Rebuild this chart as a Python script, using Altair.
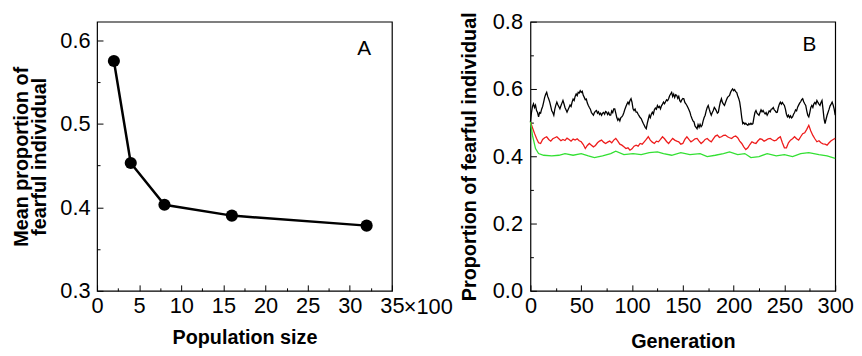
import altair as alt
import pandas as pd

# ---------------- Panel A data ----------------
pop_size = [2, 4, 8, 16, 32]
mean_prop = [0.575, 0.453, 0.403, 0.390, 0.378]

# ---------------- Panel B data ----------------
# black series: one value per generation 0..300
black_val = [
    0.502, 0.530, 0.548, 0.556, 0.545, 0.552, 0.536, 0.530, 0.517, 0.530,
    0.528, 0.540, 0.548, 0.561, 0.575, 0.584, 0.590, 0.578, 0.570, 0.561,
    0.548, 0.535, 0.530, 0.522, 0.540, 0.552, 0.561, 0.553, 0.547, 0.541,
    0.550, 0.558, 0.566, 0.556, 0.545, 0.538, 0.531, 0.538, 0.545, 0.552,
    0.548, 0.561, 0.570, 0.566, 0.578, 0.585, 0.580, 0.590, 0.588, 0.595,
    0.590, 0.593, 0.581, 0.575, 0.568, 0.570, 0.558, 0.551, 0.545, 0.540,
    0.530, 0.526, 0.522, 0.530, 0.534, 0.536, 0.528, 0.532, 0.524, 0.528,
    0.522, 0.528, 0.530, 0.525, 0.533, 0.531, 0.524, 0.530, 0.522, 0.522,
    0.535, 0.530, 0.541, 0.541, 0.528, 0.515, 0.507, 0.512, 0.505, 0.515,
    0.517, 0.522, 0.530, 0.540, 0.548, 0.555, 0.561, 0.555, 0.566, 0.571,
    0.560, 0.541, 0.536, 0.540, 0.531, 0.531, 0.525, 0.520, 0.515, 0.512,
    0.505, 0.498, 0.492, 0.486, 0.482, 0.498, 0.510, 0.522, 0.515, 0.525,
    0.531, 0.525, 0.538, 0.543, 0.540, 0.551, 0.545, 0.548, 0.541, 0.550,
    0.555, 0.561, 0.556, 0.562, 0.568, 0.565, 0.571, 0.580, 0.585, 0.590,
    0.578, 0.585, 0.575, 0.583, 0.581, 0.572, 0.578, 0.565, 0.561, 0.568,
    0.572, 0.571, 0.560, 0.556, 0.551, 0.545, 0.538, 0.531, 0.520, 0.512,
    0.505, 0.502, 0.490, 0.486, 0.482, 0.494, 0.486, 0.495, 0.488, 0.492,
    0.505, 0.515, 0.522, 0.535, 0.545, 0.551, 0.540, 0.530, 0.522, 0.530,
    0.536, 0.545, 0.541, 0.535, 0.528, 0.531, 0.548, 0.562, 0.571, 0.560,
    0.555, 0.551, 0.560, 0.568, 0.575, 0.578, 0.581, 0.590, 0.596, 0.600,
    0.595, 0.598, 0.592, 0.590, 0.580, 0.572, 0.561, 0.540, 0.515, 0.497,
    0.500, 0.495, 0.498, 0.494, 0.492, 0.497, 0.494, 0.498, 0.495, 0.497,
    0.515, 0.530, 0.536, 0.528, 0.525, 0.522, 0.530, 0.538, 0.532, 0.536,
    0.530, 0.526, 0.530, 0.522, 0.528, 0.535, 0.532, 0.540, 0.541, 0.545,
    0.538, 0.535, 0.530, 0.531, 0.545, 0.555, 0.561, 0.555, 0.560, 0.555,
    0.551, 0.540, 0.525, 0.517, 0.522, 0.515, 0.520, 0.514, 0.517, 0.525,
    0.530, 0.538, 0.535, 0.546, 0.552, 0.558, 0.562, 0.568, 0.571, 0.562,
    0.556, 0.551, 0.535, 0.522, 0.517, 0.530, 0.545, 0.551, 0.545, 0.556,
    0.560, 0.555, 0.566, 0.560, 0.555, 0.551, 0.560, 0.566, 0.540, 0.512,
    0.497, 0.510, 0.522, 0.531, 0.540, 0.550, 0.555, 0.561, 0.552, 0.540,
    0.522,
]
black_gen = list(range(len(black_val)))

# red series: one value every 2 generations 0..300
red_val = [
    0.502, 0.485, 0.468, 0.453, 0.440, 0.438, 0.450, 0.455, 0.458, 0.450,
    0.445, 0.452, 0.455, 0.458, 0.452, 0.446, 0.450, 0.447, 0.454, 0.450,
    0.445, 0.451, 0.448, 0.452, 0.446, 0.443, 0.435, 0.423, 0.432, 0.438,
    0.433, 0.428, 0.432, 0.440, 0.445, 0.448, 0.442, 0.438, 0.442, 0.445,
    0.440, 0.448, 0.453, 0.445, 0.436, 0.433, 0.428, 0.423, 0.425, 0.418,
    0.422, 0.430, 0.433, 0.430, 0.438, 0.436, 0.443, 0.450, 0.458, 0.448,
    0.442, 0.438, 0.445, 0.443, 0.450, 0.458, 0.452, 0.444, 0.438, 0.446,
    0.453, 0.448, 0.445, 0.443, 0.436, 0.438, 0.450, 0.458, 0.450, 0.443,
    0.447, 0.452, 0.453, 0.445, 0.438, 0.443, 0.450, 0.453, 0.447, 0.443,
    0.452, 0.460, 0.463, 0.456, 0.458, 0.462, 0.463, 0.458, 0.455, 0.453,
    0.458, 0.460, 0.455, 0.445, 0.438, 0.428, 0.420, 0.425, 0.435, 0.443,
    0.440, 0.438, 0.446, 0.452, 0.450, 0.445, 0.448, 0.452, 0.453, 0.449,
    0.446, 0.448, 0.454, 0.458, 0.440, 0.425, 0.425, 0.440, 0.448, 0.452,
    0.458, 0.452, 0.448, 0.458, 0.467, 0.470, 0.480, 0.492, 0.475, 0.462,
    0.452, 0.443, 0.446, 0.440, 0.437, 0.436, 0.433, 0.440, 0.446, 0.450,
    0.453,
]
red_gen = list(range(0, 2 * len(red_val), 2))

green_gen = [0, 2, 5, 8, 13, 21, 28, 34, 42, 50, 57, 63, 71, 79, 84, 92, 101, 109, 117, 125,
             131, 139, 148, 157, 167, 174, 182, 190, 196, 204, 211, 217, 225, 233, 242, 250,
             258, 266, 274, 284, 292, 300]
green_val = [0.502, 0.462, 0.423, 0.408, 0.403, 0.401, 0.403, 0.408, 0.403, 0.408, 0.401,
             0.396, 0.401, 0.408, 0.415, 0.405, 0.408, 0.405, 0.411, 0.413, 0.408, 0.403,
             0.411, 0.405, 0.408, 0.399, 0.403, 0.408, 0.413, 0.405, 0.408, 0.396, 0.399,
             0.408, 0.401, 0.405, 0.399, 0.408, 0.411, 0.405, 0.401, 0.394]

series_names = ["200", "400", "800"]
series_colors = ["#000000", "#ee1c1c", "#33e033"]

# annotations
panel_letters = ["A", "B"]
letter_a_pos = [31.7, 0.589]
letter_b_pos = [274.6, 0.732]
multiplier_text = ["×100"]

# axis tick values
a_x_major = [0, 5, 10, 15, 20, 25, 30, 35]
a_x_minor = [2.5, 7.5, 12.5, 17.5, 22.5, 27.5, 32.5]
a_y_major = [0.3, 0.4, 0.5, 0.6]
a_y_minor = [0.35, 0.45, 0.55]
b_x_major = [0, 50, 100, 150, 200, 250, 300]
b_x_minor = [25, 75, 125, 175, 225, 275]
b_y_major = [0.0, 0.2, 0.4, 0.6, 0.8]
b_y_minor = [0.1, 0.3, 0.5, 0.7]

FONT = "Liberation Sans"
LABEL_SIZE = 22

dfA = pd.DataFrame({"size": pop_size, "prop": mean_prop})
dfB = pd.concat([
    pd.DataFrame({"gen": g, "prop": v, "series": n})
    for g, v, n in zip([black_gen, red_gen, green_gen],
                       [black_val, red_val, green_val], series_names)
], ignore_index=True)


def main_axis(values, fmt, title, orient, label_pad, title_pad):
    return alt.Axis(values=values, format=fmt, title=title, orient=orient,
                    ticks=False, tickSize=0, domain=False, grid=False,
                    labelFont=FONT, labelFontSize=LABEL_SIZE, labelColor="black",
                    labelPadding=label_pad, labelFlush=False, labelOverlap=False,
                    titleFont=FONT, titleFontSize=20, titleFontWeight="bold",
                    titleColor="black", titlePadding=title_pad, titleLineHeight=18)


def tick_axis(values, orient, size):
    return alt.Axis(values=values, orient=orient, labels=False, domain=False,
                    grid=False, title=None, ticks=True, tickSize=size,
                    offset=-size, tickColor="black", tickWidth=1)


# ---------------- Panel A ----------------
xA = alt.Scale(domain=[0, 35], nice=False, zero=False)
yA = alt.Scale(domain=[0.3, 0.622], nice=False, zero=False)

baseA = alt.Chart(dfA)
lineA = baseA.mark_line(color="black", strokeWidth=2.5).encode(
    x=alt.X("size:Q", scale=xA,
            axis=main_axis(a_x_major, "d", "Population size", "bottom", 5, 11)),
    y=alt.Y("prop:Q", scale=yA,
            axis=main_axis(a_y_major, ".1f", ["Mean proportion of", "fearful individual"],
                           "left", 7, 11)),
)
ptsA = baseA.mark_circle(color="black", size=150, opacity=1).encode(
    x=alt.X("size:Q", scale=xA, axis=None),
    y=alt.Y("prop:Q", scale=yA, axis=None),
)
majA = baseA.mark_point(opacity=0).encode(
    x=alt.X("size:Q", scale=xA, axis=tick_axis(a_x_major, "bottom", 6)),
    y=alt.Y("prop:Q", scale=yA, axis=tick_axis(a_y_major, "left", 6)),
)
minA = baseA.mark_point(opacity=0).encode(
    x=alt.X("size:Q", scale=xA, axis=tick_axis(a_x_minor, "bottom", 3)),
    y=alt.Y("prop:Q", scale=yA, axis=tick_axis(a_y_minor, "left", 3)),
)
letterA = alt.Chart(pd.DataFrame({"x": [letter_a_pos[0]], "y": [letter_a_pos[1]],
                                  "t": [panel_letters[0]]})).mark_text(
    font=FONT, fontSize=21, color="black", align="center", baseline="middle"
).encode(x=alt.X("x:Q", scale=xA, axis=None), y=alt.Y("y:Q", scale=yA, axis=None),
         text="t:N")
multA = alt.Chart(pd.DataFrame({"x": [a_x_major[-1]], "y": [a_y_major[0]],
                                "t": multiplier_text})).mark_text(
    font=FONT, fontSize=LABEL_SIZE, color="black", align="left", baseline="middle",
    dx=12, dy=16
).encode(x=alt.X("x:Q", scale=xA, axis=None), y=alt.Y("y:Q", scale=yA, axis=None),
         text="t:N")

panelA = alt.layer(lineA, ptsA, majA, minA, letterA, multA).resolve_axis(
    x="independent", y="independent").properties(width=298, height=272)

# ---------------- Panel B ----------------
xB = alt.Scale(domain=[0, 300], nice=False, zero=False)
yB = alt.Scale(domain=[0, 0.8], nice=False, zero=False)

baseB = alt.Chart(dfB)
linesB = baseB.mark_line(strokeWidth=1.3).encode(
    x=alt.X("gen:Q", scale=xB,
            axis=main_axis(b_x_major, "d", "Generation", "bottom", 5, 15)),
    y=alt.Y("prop:Q", scale=yB,
            axis=main_axis(b_y_major, ".1f", "Proportion of fearful individual",
                           "left", 8, 13)),
    color=alt.Color("series:N", scale=alt.Scale(domain=series_names, range=series_colors),
                    legend=None),
    detail="series:N",
)
majB = alt.Chart(dfA).mark_point(opacity=0).encode(
    x=alt.X("size:Q", scale=xB, axis=tick_axis(b_x_major, "bottom", 6)),
    y=alt.Y("prop:Q", scale=yB, axis=tick_axis(b_y_major, "left", 6)),
)
minB = alt.Chart(dfA).mark_point(opacity=0).encode(
    x=alt.X("size:Q", scale=xB, axis=tick_axis(b_x_minor, "bottom", 3)),
    y=alt.Y("prop:Q", scale=yB, axis=tick_axis(b_y_minor, "left", 3)),
)
letterB = alt.Chart(pd.DataFrame({"x": [letter_b_pos[0]], "y": [letter_b_pos[1]],
                                  "t": [panel_letters[1]]})).mark_text(
    font=FONT, fontSize=21, color="black", align="center", baseline="middle"
).encode(x=alt.X("x:Q", scale=xB, axis=None), y=alt.Y("y:Q", scale=yB, axis=None),
         text="t:N")

panelB = alt.layer(linesB, majB, minB, letterB).resolve_axis(
    x="independent", y="independent").properties(width=308, height=272)

chart = alt.hconcat(panelA, panelB, spacing=140, bounds="flush").properties(
    padding={"left": 2, "top": 0, "right": 0, "bottom": 0},
    background="white",
).configure_view(stroke="black", strokeWidth=1.2)

chart.save("out.html", embed_options={"renderer": "svg", "actions": False})
